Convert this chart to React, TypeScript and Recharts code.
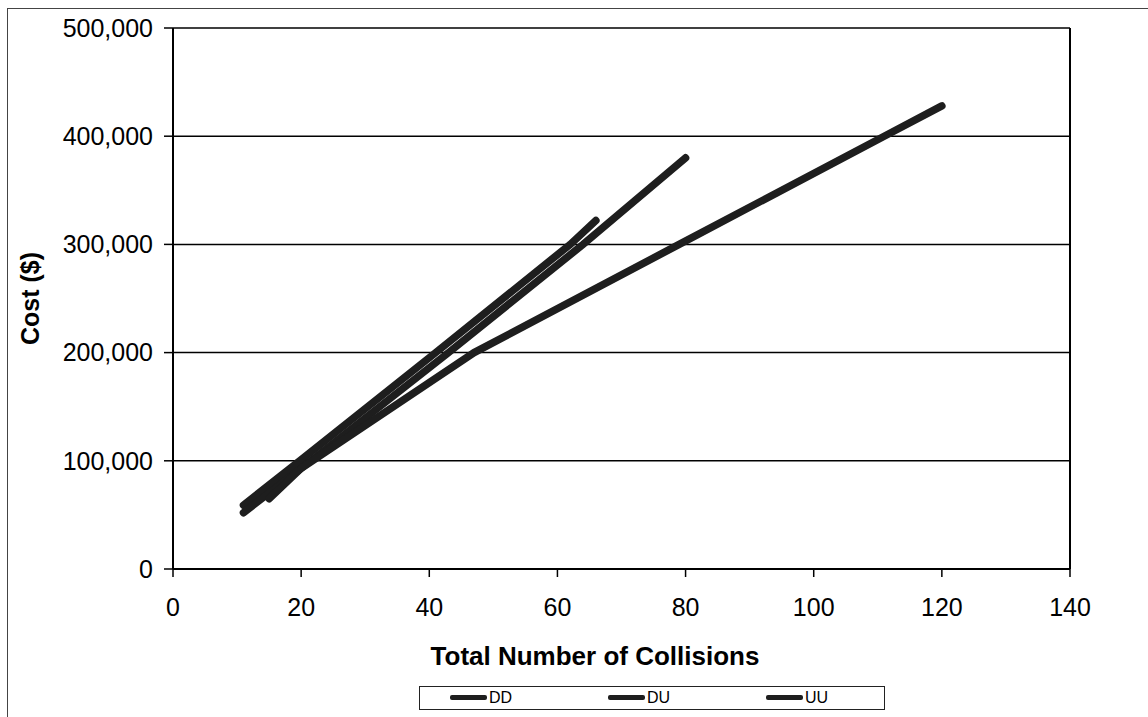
import { CartesianGrid, Line, LineChart, ReferenceLine, XAxis, YAxis } from "recharts";

const seriesNames: string[] = ["DD", "DU", "UU"];

const ddCollisions: number[] = [11, 20, 41, 62, 66];
const ddCost: number[] = [59000, 101000, 200000, 300000, 322000];

const duCollisions: number[] = [11, 20, 43, 64, 80];
const duCost: number[] = [52000, 93000, 200000, 300000, 380000];

const uuCollisions: number[] = [15, 20, 47, 79, 111, 120];
const uuCost: number[] = [65000, 93000, 200000, 300000, 400000, 428000];

const xTicks: number[] = [0, 20, 40, 60, 80, 100, 120, 140];
const yTicks: number[] = [0, 100000, 200000, 300000, 400000, 500000];

const FONT = "'Liberation Sans', Arial, sans-serif";
const LINE_COLOR = "#1e1e1e";

const toPoints = (xs: number[], ys: number[]) => xs.map((x, i) => ({ x, cost: ys[i] }));

// axis title, centred a bit left of the plot like the Excel original
const XTitle = (props: any) => {
    const { viewBox } = props;
    return (
        <text x={595} y={viewBox.y + 96} textAnchor="middle" fill="#000" fontSize={26} fontWeight={700} fontFamily={FONT}>
            Total Number of Collisions
        </text>
    );
};

export default function App() {
    const series = [
        { name: seriesNames[0], data: toPoints(ddCollisions, ddCost) },
        { name: seriesNames[1], data: toPoints(duCollisions, duCost) },
        { name: seriesNames[2], data: toPoints(uuCollisions, uuCost) },
    ];

    return (
        <div style={{ position: "absolute", left: 0, top: 0, width: 1148, height: 717, background: "#fff", fontFamily: FONT, overflow: "hidden" }}>
            {/* scanned frame, only top and left edges show */}
            <div style={{ position: "absolute", left: 7, top: 8, width: 1160, height: 730, borderLeft: "1.5px solid #444", borderTop: "1.5px solid #444" }} />

            <div style={{ position: "absolute", left: 0, top: 0 }}>
                <LineChart width={1148} height={717} margin={{ top: 28, right: 78, bottom: 48, left: 0 }}>
                    <CartesianGrid horizontal vertical={false} stroke="#000" strokeWidth={1.5} />
                    <XAxis
                        type="number"
                        dataKey="x"
                        domain={[0, 140]}
                        ticks={xTicks}
                        allowDuplicatedCategory={false}
                        height={100}
                        tickSize={8}
                        tickMargin={21}
                        axisLine={{ stroke: "#000", strokeWidth: 2 }}
                        tickLine={{ stroke: "#000", strokeWidth: 1.5 }}
                        tick={{ fill: "#000", fontSize: 25, fontFamily: FONT }}
                        label={<XTitle />}
                    />
                    <YAxis
                        type="number"
                        dataKey="cost"
                        domain={[0, 500000]}
                        ticks={yTicks}
                        width={173}
                        tickSize={9}
                        tickMargin={11}
                        tickFormatter={(v: number) => v.toLocaleString("en-US")}
                        axisLine={{ stroke: "#000", strokeWidth: 2 }}
                        tickLine={{ stroke: "#000", strokeWidth: 1.5 }}
                        tick={{ fill: "#000", fontSize: 25, fontFamily: FONT }}
                        label={{ value: "Cost ($)", angle: -90, position: "insideLeft", offset: 30, fill: "#000", fontSize: 25, fontWeight: 700, fontFamily: FONT, style: { textAnchor: "middle" } }}
                    />
                    <ReferenceLine x={140} stroke="#000" strokeWidth={2} />
                    {series.map((s) => (
                        <Line
                            key={s.name}
                            name={s.name}
                            data={s.data}
                            dataKey="cost"
                            type="linear"
                            stroke={LINE_COLOR}
                            strokeWidth={7.5}
                            strokeLinecap="round"
                            dot={false}
                            activeDot={false}
                            isAnimationActive={false}
                        />
                    ))}
                </LineChart>
            </div>

            {/* legend box */}
            <div style={{ position: "absolute", left: 419, top: 686, width: 466, height: 24, border: "1.5px solid #222", boxSizing: "border-box" }}>
                {seriesNames.map((name, i) => (
                    <div key={name} style={{ position: "absolute", left: 30 + i * 158, top: 0, height: 21, display: "flex", alignItems: "center" }}>
                        <div style={{ width: 37, height: 5, background: LINE_COLOR, borderRadius: 2 }} />
                        <span style={{ fontSize: 16, color: "#000", marginLeft: 2, lineHeight: "21px" }}>{name}</span>
                    </div>
                ))}
            </div>
        </div>
    );
}
